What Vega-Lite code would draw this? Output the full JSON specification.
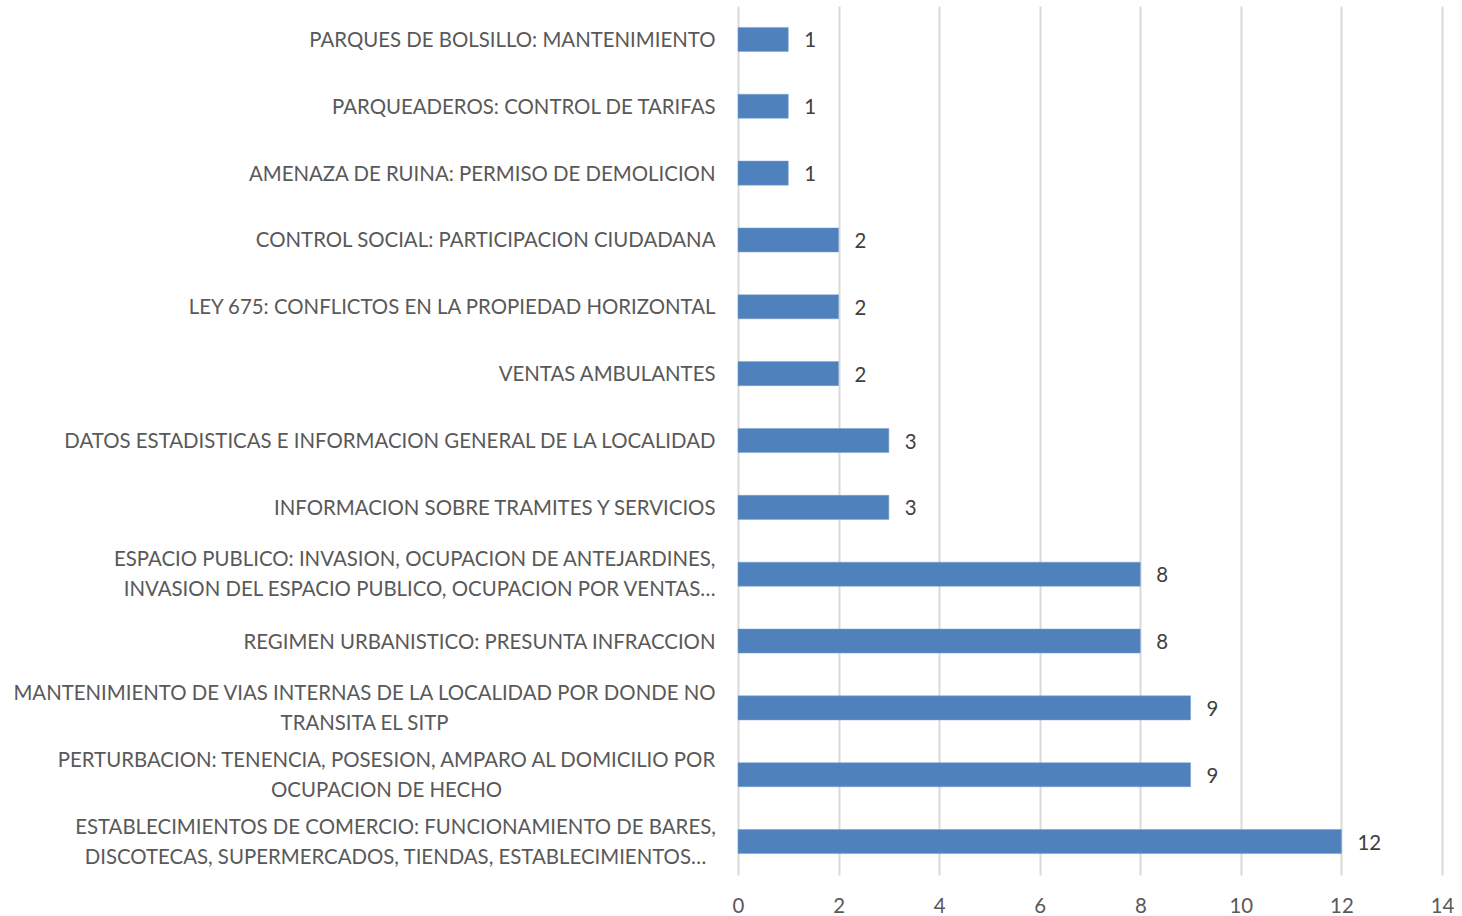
{
  "$schema": "https://vega.github.io/schema/vega-lite/v6.json",
  "width": 704,
  "height": 869,
  "autosize": {"type": "none"},
  "padding": {"left": 738, "top": 6, "right": 20, "bottom": 41},
  "background": "white",
  "config": {"view": {"stroke": null}, "font": "Lato"},
  "data": {"values": [
    {"order": 1, "cat": "PARQUES DE BOLSILLO: MANTENIMIENTO", "v": 1},
    {"order": 2, "cat": "PARQUEADEROS: CONTROL DE TARIFAS", "v": 1},
    {"order": 3, "cat": "AMENAZA DE RUINA: PERMISO DE DEMOLICION", "v": 1},
    {"order": 4, "cat": "CONTROL SOCIAL: PARTICIPACION CIUDADANA", "v": 2},
    {"order": 5, "cat": "LEY 675: CONFLICTOS EN LA PROPIEDAD HORIZONTAL", "v": 2},
    {"order": 6, "cat": "VENTAS AMBULANTES", "v": 2},
    {"order": 7, "cat": "DATOS ESTADISTICAS E INFORMACION GENERAL DE LA LOCALIDAD", "v": 3},
    {"order": 8, "cat": "INFORMACION SOBRE TRAMITES Y SERVICIOS", "v": 3},
    {"order": 9, "cat": "ESPACIO PUBLICO: INVASION, OCUPACION DE ANTEJARDINES,|INVASION DEL ESPACIO PUBLICO, OCUPACION POR VENTAS…", "v": 8},
    {"order": 10, "cat": "REGIMEN URBANISTICO: PRESUNTA INFRACCION", "v": 8},
    {"order": 11, "cat": "MANTENIMIENTO DE VIAS INTERNAS DE LA LOCALIDAD POR DONDE NO|TRANSITA EL SITP", "v": 9},
    {"order": 12, "cat": "PERTURBACION: TENENCIA, POSESION, AMPARO AL DOMICILIO POR|OCUPACION DE HECHO", "v": 9},
    {"order": 13, "cat": "ESTABLECIMIENTOS DE COMERCIO: FUNCIONAMIENTO DE BARES,|DISCOTECAS, SUPERMERCADOS, TIENDAS, ESTABLECIMIENTOS…", "v": 12}
  ]},
  "encoding": {
    "y": {
      "field": "cat", "type": "nominal", "sort": {"field": "order"}, "title": null,
      "scale": {"paddingInner": 0.64, "paddingOuter": 0.32},
      "axis": {
        "labelExpr": "split(datum.label, '|')",
        "labelFont": "Lato", "labelFontSize": 20.4, "labelColor": "#595959",
        "labelLineHeight": 30, "labelLimit": 0,
        "labelOffset": {"condition": {"test": "indexof(datum.value, '|') >= 0", "value": -14}, "value": 1.5},
        "labelAlign": {"condition": {"test": "indexof(datum.value, 'MANTENIMIENTO DE VIAS') == 0 || indexof(datum.value, 'PERTURBACION') == 0 || indexof(datum.value, 'ESTABLECIMIENTOS') == 0", "value": "center"}, "value": "right"},
        "labelPadding": {"condition": [
          {"test": "indexof(datum.value, 'MANTENIMIENTO DE VIAS') == 0", "value": 374},
          {"test": "indexof(datum.value, 'PERTURBACION') == 0", "value": 352},
          {"test": "indexof(datum.value, 'ESTABLECIMIENTOS') == 0", "value": 343}
        ], "value": 23},
        "ticks": false, "domain": false
      }
    },
    "x": {
      "field": "v", "type": "quantitative", "title": null,
      "scale": {"domain": [0, 14], "nice": false},
      "axis": {
        "values": [0, 2, 4, 6, 8, 10, 12, 14],
        "labelFont": "Lato", "labelFontSize": 20.4, "labelColor": "#595959",
        "labelPadding": 21, "labelFlush": false, "ticks": false, "domain": false,
        "grid": true, "gridColor": "#d9d9d9", "gridWidth": 2
      }
    }
  },
  "layer": [
    {"mark": {"type": "bar", "color": "#4f81bd", "stroke": "#7aa0cf", "strokeWidth": 0.5}},
    {"mark": {"type": "text", "align": "left", "baseline": "middle", "dx": 16, "dy": 2, "fontSize": 20.4, "color": "#404040", "font": "Lato"},
     "encoding": {"text": {"field": "v", "type": "quantitative"}}}
  ]
}
